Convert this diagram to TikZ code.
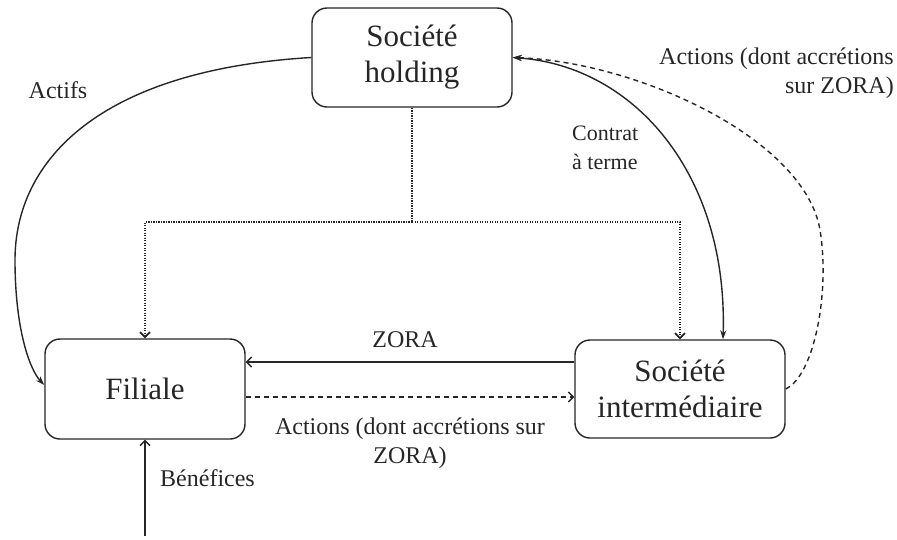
\documentclass[tikz,border=0pt]{standalone}
\usepackage{fontspec}
\setmainfont{Liberation Serif}
\usetikzlibrary{arrows.meta}
\definecolor{ink}{HTML}{262626}
\begin{document}
\begin{tikzpicture}[x=1pt,y=-1pt,
  box/.style={draw=ink,line width=1.4pt,rounded corners=15pt,align=center,
    font=\fontsize{31}{36}\selectfont,text=ink,inner sep=0pt},
  lbl/.style={font=\fontsize{24}{29}\selectfont,text=ink,inner sep=0pt},
  conn/.style={draw=ink,line width=1.4pt},
  tree/.style={draw=ink,line width=1.8pt,dash pattern=on 1.4pt off 1.1pt},
  dsh/.style={draw=ink,line width=1.4pt,dash pattern=on 5pt off 4pt},
  openhead/.style={-{Straight Barb[length=5pt,width=10pt]}},
  fillhead/.style={-{Stealth[length=9pt,width=6pt]}}]
\useasboundingbox (0,0) rectangle (897,539);
\node[box,minimum width=200pt,minimum height=99pt] (holding) at (412,57.5) {Société\\holding};
\node[box,minimum width=200pt,minimum height=100pt] (filiale) at (145,389) {Filiale};
\node[box,minimum width=210pt,minimum height=98pt] (inter) at (680,389) {Société\\intermédiaire};
\coordinate (split) at (412,222);
\coordinate (benef) at (145,536);
% dotted tree
\draw[tree] (holding.south) -- (split);
\draw[tree,openhead] (split) -| (filiale.north);
\draw[tree,openhead] (split) -| (inter.north);
% Actifs
\draw[conn,fillhead] (holding.west) .. controls (100,70) and (15,160) .. (15,260)
  .. controls (15,330) and (30,370) .. ([yshift=4pt]filiale.west);
\node[lbl] (actifs) at (58,90) {Actifs};
% Contrat a terme
\draw[conn,{Stealth[length=9pt,width=6pt]}-{Stealth[length=9pt,width=6pt]}]
  (holding.east) .. controls (635,66) and (728,175) .. ([xshift=43pt]inter.north);
\node[lbl,align=left,anchor=north west,font=\fontsize{22}{29}\selectfont] (contrat) at (572,126) {Contrat\\à terme};
% dashed actions to holding
\draw[dsh,fillhead] (inter.east) .. controls (815,375) and (830,290) .. (820,230)
  .. controls (805,140) and (640,62) .. (holding.east);
\node[lbl,align=right,anchor=north east] (act1) at (894,48) {Actions (dont accrétions\\sur ZORA)};
% ZORA
\draw[conn,openhead] ([yshift=27pt]inter.west) -- ([yshift=27pt]filiale.east);
\node[lbl] (zora) at (405,340) {ZORA};
% Actions dashed
\draw[dsh,openhead] ([yshift=-8pt]filiale.east) -- ([yshift=-8pt]inter.west);
\node[lbl,align=center] (act2) at (410,443) {Actions (dont accrétions sur\\ZORA)};
% Benefices
\draw[conn,openhead] (benef) -- (filiale.south);
\node[lbl,anchor=west] (benlbl) at (160,478) {Bénéfices};
\end{tikzpicture}
\end{document}
